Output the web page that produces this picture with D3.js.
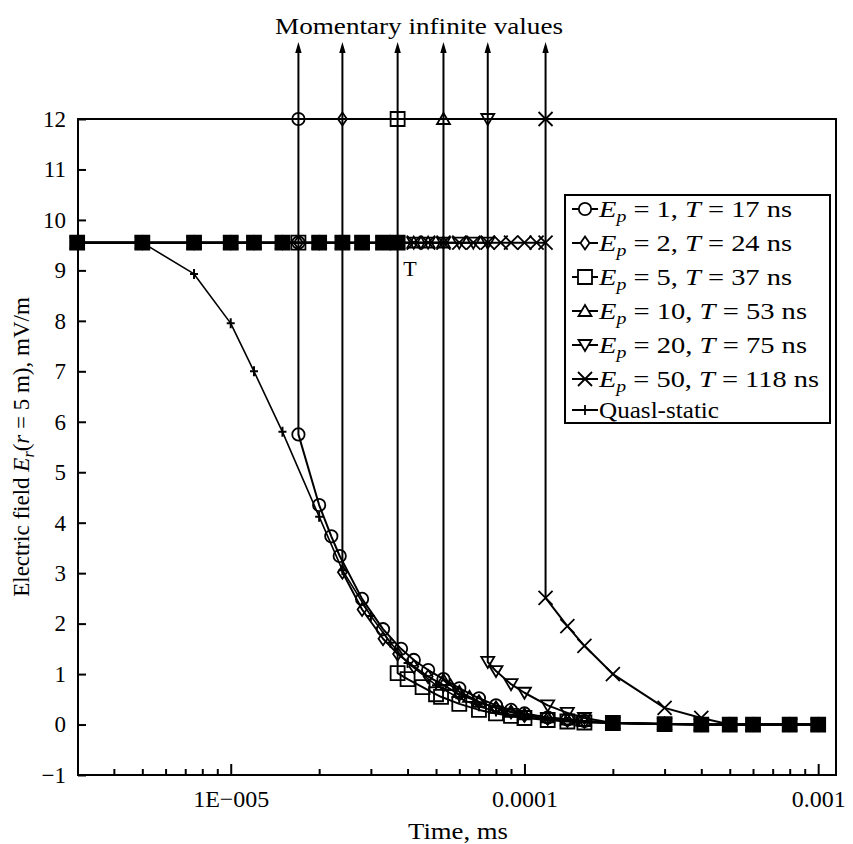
<!DOCTYPE html>
<html>
<head>
<meta charset="utf-8">
<script src="https://cdn.jsdelivr.net/npm/d3@7"></script>
<style>
  html, body { margin: 0; padding: 0; background: #fff; }
  svg { display: block; font-family: "Liberation Serif", "Times New Roman", serif; }
</style>
</head>
<body>
<svg id="chart" width="853" height="844"></svg>
<script>
// ---------- DATA ----------
const circleT = [3e-6,5e-6,7.5e-6,1e-5,1.2e-5,1.5e-5,1.7e-5,1.7e-5,1.7e-5,2e-5,2.2e-5,2.35e-5,2.8e-5,3.3e-5,3.8e-5,4.2e-5,4.7e-5,5.3e-5,6e-5,7e-5,8e-5,9e-5,1e-4,1.2e-4,1.4e-4,1.6e-4,2e-4,3e-4,4e-4,5e-4,6e-4,8e-4,1e-3];
const circleV = [9.55,9.55,9.55,9.55,9.55,9.55,9.55,12,5.75,4.35,3.73,3.34,2.49,1.89,1.5,1.28,1.08,0.9,0.72,0.52,0.38,0.29,0.22,0.14,0.1,0.07,0.03,0.01,0,0,0,0,0];

const diamondT = [3e-6,5e-6,7.5e-6,1e-5,1.2e-5,1.5e-5,1.7e-5,2e-5,2.4e-5,2.4e-5,2.4e-5,2.8e-5,3.3e-5,3.7e-5,4.2e-5,4.7e-5,5.3e-5,6e-5,7e-5,8e-5,9e-5,1e-4,1.2e-4,1.4e-4,1.6e-4,2e-4,3e-4,4e-4,5e-4,6e-4,8e-4,1e-3];
const diamondV = [9.55,9.55,9.55,9.55,9.55,9.55,9.55,9.55,9.55,12,3.02,2.28,1.7,1.4,1.15,0.95,0.78,0.6,0.45,0.33,0.25,0.18,0.12,0.08,0.06,0.03,0.01,0,0,0,0,0];

const squareT = [3e-6,5e-6,7.5e-6,1e-5,1.2e-5,1.5e-5,1.7e-5,2e-5,2.4e-5,2.8e-5,3.3e-5,3.7e-5,3.7e-5,3.7e-5,4e-5,4.5e-5,5e-5,5.2e-5,6e-5,7e-5,8e-5,9e-5,1e-4,1.2e-4,1.4e-4,1.6e-4,2e-4,3e-4,4e-4,5e-4,6e-4,8e-4,1e-3];
const squareV = [9.55,9.55,9.55,9.55,9.55,9.55,9.55,9.55,9.55,9.55,9.55,9.55,12,1.02,0.9,0.74,0.6,0.55,0.41,0.29,0.22,0.17,0.13,0.09,0.06,0.04,0.03,0.01,0,0,0,0,0];

const triUpT = [3e-6,5e-6,7.5e-6,1e-5,1.2e-5,1.5e-5,2e-5,2.4e-5,2.8e-5,3.3e-5,3.7e-5,4.2e-5,4.7e-5,5.3e-5,5.3e-5,5.3e-5,5.6e-5,6e-5,6.5e-5,7e-5,8e-5,9e-5,1e-4,1.2e-4,1.4e-4,1.6e-4,2e-4,3e-4,4e-4,5e-4,6e-4,8e-4,1e-3];
const triUpV = [9.55,9.55,9.55,9.55,9.55,9.55,9.55,9.55,9.55,9.55,9.55,9.55,9.55,9.55,12,0.88,0.78,0.65,0.55,0.45,0.33,0.25,0.2,0.14,0.1,0.07,0.03,0.01,0,0,0,0,0];

const triDownT = [3e-6,5e-6,7.5e-6,1e-5,1.2e-5,1.5e-5,2e-5,2.4e-5,2.8e-5,3.3e-5,3.7e-5,4.2e-5,4.7e-5,5.3e-5,6e-5,6.7e-5,7.5e-5,7.5e-5,7.5e-5,8e-5,9e-5,1e-4,1.2e-4,1.4e-4,1.6e-4,2e-4,3e-4,4e-4,5e-4,6e-4,8e-4,1e-3];
const triDownV = [9.55,9.55,9.55,9.55,9.55,9.55,9.55,9.55,9.55,9.55,9.55,9.55,9.55,9.55,9.55,9.55,9.55,12,1.24,1.06,0.8,0.63,0.38,0.23,0.13,0.03,0.01,0,0,0,0,0];

const crossT = [3e-6,5e-6,7.5e-6,1e-5,1.2e-5,1.5e-5,2e-5,2.4e-5,2.8e-5,3.3e-5,3.7e-5,4.2e-5,4.7e-5,5.3e-5,6e-5,6.7e-5,7.5e-5,8.3e-5,9e-5,1e-4,1.1e-4,1.18e-4,1.18e-4,1.18e-4,1.4e-4,1.6e-4,2e-4,3e-4,4e-4,5e-4,6e-4,8e-4,1e-3];
const crossV = [9.55,9.55,9.55,9.55,9.55,9.55,9.55,9.55,9.55,9.55,9.55,9.55,9.55,9.55,9.55,9.55,9.55,9.55,9.55,9.55,9.55,9.55,12,2.51,1.95,1.56,1.0,0.33,0.13,0,0,0,0];

const quasiT = [3e-6,5e-6,7.5e-6,1e-5,1.2e-5,1.5e-5,2e-5,2.4e-5,3e-5,3.5e-5,4e-5,5e-5,6e-5,7e-5,8e-5,1e-4,1.2e-4,1.5e-4,2e-4,3e-4,4e-4,5e-4,6e-4,8e-4,1e-3];
const quasiV = [9.55,9.55,8.93,7.95,7.0,5.8,4.12,3.06,2.15,1.62,1.22,0.78,0.52,0.36,0.26,0.15,0.1,0.06,0.03,0.01,0,0,0,0,0];

const seriesNames = ["circle","diamond","square","triUp","triDown","cross","quasi"];
const seriesTimes = [circleT, diamondT, squareT, triUpT, triDownT, crossT, quasiT];
const seriesValues = [circleV, diamondV, squareV, triUpV, triDownV, crossV, quasiV];
const legendEp = ["1","2","5","10","20","50"];
const legendTns = ["17","24","37","53","75","118"];
const jumpTimes = [1.7e-5, 2.4e-5, 3.7e-5, 5.3e-5, 7.5e-5, 1.18e-4];

const yTicks = [-1,0,1,2,3,4,5,6,7,8,9,10,11,12];
const xMajorTicks = [1e-5, 1e-4, 1e-3];
const xMajorLabels = ["1E\u2212005", "0.0001", "0.001"];

// ---------- LAYOUT ----------
const svg = d3.select("#chart");
const L = 78, R = 836, T = 119, B = 775;

const x = d3.scaleLog().domain([3.02e-6, 1.15e-3]).range([L, R]);
const y = d3.scaleLinear().domain([-1, 12]).range([B, T]);

const minorTicks = [];
for (let e = -6; e <= -3; e++) {
  for (let m = 2; m <= 9; m++) {
    const v = m * Math.pow(10, e);
    if (v > 3.05e-6 && v < 1.15e-3) minorTicks.push(v);
  }
}

const xAxis = d3.axisBottom(x).tickValues(xMajorTicks)
  .tickFormat((d, i) => xMajorLabels[i]).tickSizeInner(-11).tickSizeOuter(0).tickPadding(15);
const gx = svg.append("g").attr("transform", `translate(0,${B})`).call(xAxis);
gx.select(".domain").remove();
gx.selectAll("line").attr("stroke", "#000").attr("stroke-width", 2);
gx.selectAll("text").attr("font-size", 24).attr("fill", "#000")
  .attr("font-family", "Liberation Serif");

const xAxisMinor = d3.axisBottom(x).tickValues(minorTicks).tickFormat("").tickSizeInner(-6).tickSizeOuter(0);
const gxm = svg.append("g").attr("transform", `translate(0,${B})`).call(xAxisMinor);
gxm.select(".domain").remove();
gxm.selectAll("line").attr("stroke", "#000").attr("stroke-width", 2);

const yAxis = d3.axisLeft(y).tickValues(yTicks)
  .tickFormat(d => d < 0 ? "\u2212" + Math.abs(d) : String(d))
  .tickSizeInner(-8).tickSizeOuter(0).tickPadding(12);
const gy = svg.append("g").attr("transform", `translate(${L},0)`).call(yAxis);
gy.select(".domain").remove();
gy.selectAll("line").attr("stroke", "#000").attr("stroke-width", 2);
gy.selectAll("text").attr("font-size", 23).attr("fill", "#000")
  .attr("font-family", "Liberation Serif");

svg.append("rect").attr("x", L).attr("y", T).attr("width", R - L).attr("height", B - T)
  .attr("fill", "none").attr("stroke", "#000").attr("stroke-width", 2);

// ---------- MARKERS ----------
function markerPath(name) {
  switch (name) {
    case "circle": return d3.symbol(d3.symbolCircle, 120)();
    case "diamond": return "M0,-6.5L4.5,0L0,6.5L-4.5,0Z";
    case "square": return "M-7,-7H7V7H-7Z";
    case "triUp": return "M0,-6L6.5,5H-6.5Z";
    case "triDown": return "M0,6L6.5,-5H-6.5Z";
    case "cross": return "M-7,-7L7,7M-7,7L7,-7";
    case "quasi": return "M-4,0H4M0,-5V5";
  }
}

const line = d3.line().x(d => x(d[0])).y(d => y(d[1]));

// how many series share a given (t, v) point -> dense overlap renders as a solid blob
const key = (t, v) => t.toExponential(3) + "|" + v;
const shareCount = new Map();
seriesNames.forEach((n, i) => {
  seriesTimes[i].forEach((t, j) => {
    const k = key(t, seriesValues[i][j]);
    shareCount.set(k, (shareCount.get(k) || 0) + 1);
  });
});

const arrowTop = 42;
jumpTimes.forEach(t => {
  const xp = x(t);
  svg.append("line").attr("x1", xp).attr("x2", xp).attr("y1", y(12)).attr("y2", arrowTop + 8)
    .attr("stroke", "#000").attr("stroke-width", 2);
  svg.append("path").attr("d", `M${xp},${arrowTop}L${xp + 3.2},${arrowTop + 11}L${xp - 3.2},${arrowTop + 11}Z`)
    .attr("fill", "#000");
});

seriesNames.forEach((name, i) => {
  const pts = seriesTimes[i].map((t, j) => [t, seriesValues[i][j]]);
  svg.append("path").datum(pts).attr("d", line)
    .attr("fill", "none").attr("stroke", "#000")
    .attr("stroke-width", name === "quasi" ? 1.6 : 2).attr("stroke-linejoin", "round");
});
seriesNames.forEach((name, i) => {
  const pts = seriesTimes[i].map((t, j) => [t, seriesValues[i][j]]);
  svg.append("g").selectAll("path").data(pts).join("path")
    .attr("transform", d => `translate(${x(d[0])},${y(d[1])})`)
    .attr("d", markerPath(name))
    .attr("fill", d => (name === "square" && shareCount.get(key(d[0], d[1])) >= 4) ? "#000" : "none")
    .attr("stroke", "#000").attr("stroke-width", name === "quasi" ? 2 : 1.8);
});

// ---------- TEXT ----------
svg.append("text").attr("x", 275).attr("y", 34)
  .attr("font-size", 24).attr("textLength", 288).attr("lengthAdjust", "spacingAndGlyphs")
  .text("Momentary infinite values");

svg.append("text").attr("x", 410).attr("y", 276).attr("text-anchor", "middle")
  .attr("font-size", 22).text("T");

svg.append("text").attr("x", 408).attr("y", 839)
  .attr("font-size", 24).attr("textLength", 100).attr("lengthAdjust", "spacingAndGlyphs")
  .text("Time, ms");

const yt = svg.append("text").attr("transform", "translate(29,447) rotate(-90)")
  .attr("text-anchor", "middle").attr("font-size", 23);
yt.append("tspan").text("Electric field ");
yt.append("tspan").attr("font-style", "italic").text("E");
yt.append("tspan").attr("font-style", "italic").attr("font-size", 16).attr("dy", 5).text("r");
yt.append("tspan").attr("dy", -5).text("(");
yt.append("tspan").attr("font-style", "italic").text("r");
yt.append("tspan").text(" = 5 m), mV/m");

// ---------- LEGEND ----------
const lg = svg.append("g");
lg.append("rect").attr("x", 565).attr("y", 195).attr("width", 265).attr("height", 228)
  .attr("fill", "#fff").attr("stroke", "#000").attr("stroke-width", 2);
const rowY = [209, 243, 277, 311, 345, 379, 410];
const rowW = [193, 193, 193, 208, 208, 220, 120];
seriesNames.forEach((name, i) => {
  const cy = rowY[i];
  lg.append("line").attr("x1", 572).attr("x2", 598).attr("y1", cy).attr("y2", cy)
    .attr("stroke", "#000").attr("stroke-width", 2);
  lg.append("path").attr("transform", `translate(585,${cy})`).attr("d", markerPath(name))
    .attr("fill", name === "quasi" ? "none" : "#fff").attr("stroke", "#000").attr("stroke-width", 1.8);
  const tx = lg.append("text").attr("x", 599).attr("y", cy + 8).attr("font-size", 23)
    .attr("textLength", rowW[i]).attr("lengthAdjust", "spacingAndGlyphs");
  if (name === "quasi") {
    tx.text("Quasl-static");
  } else {
    tx.append("tspan").attr("font-style", "italic").text("E");
    tx.append("tspan").attr("font-style", "italic").attr("font-size", 16).attr("dy", 5).text("p");
    tx.append("tspan").attr("dy", -5).text(" = " + legendEp[i] + ", ");
    tx.append("tspan").attr("font-style", "italic").text("T");
    tx.append("tspan").text(" = " + legendTns[i] + " ns");
  }
});
</script>
</body>
</html>
